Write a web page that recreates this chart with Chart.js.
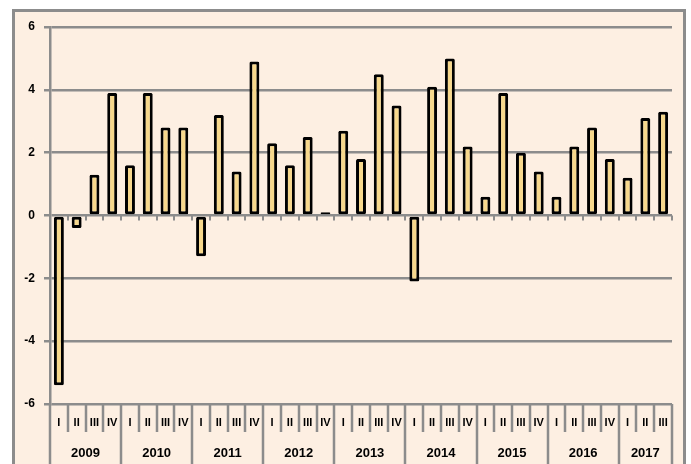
<!DOCTYPE html>
<html>
<head>
<meta charset="utf-8">
<script src="https://cdn.jsdelivr.net/npm/chart.js@4/dist/chart.umd.min.js"></script>
<style>
  html, body { margin: 0; padding: 0; background: #fff; }
  #wrap { width: 691px; height: 464px; }
</style>
</head>
<body>
<div id="wrap"><canvas id="chart" width="691" height="464"></canvas></div>
<script>
// data
const years = ['2009', '2010', '2011', '2012', '2013', '2014', '2015', '2016', '2017'];
const quartersPerYear = [4, 4, 4, 4, 4, 4, 4, 4, 3];
const quarterNames = ['I', 'II', 'III', 'IV'];
const values = [
  -5.4, -0.4, 1.3, 3.9,
  1.6, 3.9, 2.8, 2.8,
  -1.3, 3.2, 1.4, 4.9,
  2.3, 1.6, 2.5, 0.1,
  2.7, 1.8, 4.5, 3.5,
  -2.1, 4.1, 5.0, 2.2,
  0.6, 3.9, 2.0, 1.4,
  0.6, 2.2, 2.8, 1.8,
  1.2, 3.1, 3.3
];
const yTicks = [-6, -4, -2, 0, 2, 4, 6];

const labels = [];
years.forEach((y, i) => {
  for (let q = 0; q < quartersPerYear[i]; q++) labels.push(quarterNames[q]);
});

const GRAY = '#8c8c8c';
const FONT = '"Liberation Sans", Arial, sans-serif';

// frame, background and the two-row category labels
const framePlugin = {
  id: 'frame',
  beforeDraw(chart) {
    const ctx = chart.ctx;
    ctx.save();
    ctx.fillStyle = '#fff';
    ctx.fillRect(0, 0, chart.width, chart.height);
    ctx.fillStyle = '#fdefe2';
    ctx.fillRect(13, 10, 672, 460);
    ctx.strokeStyle = GRAY;
    ctx.lineWidth = 3;
    ctx.beginPath();
    ctx.moveTo(13.5, 470);
    ctx.lineTo(13.5, 10.5);
    ctx.lineTo(684.5, 10.5);
    ctx.lineTo(684.5, 470);
    ctx.stroke();
    ctx.restore();
  },
  beforeDatasetsDraw(chart) {
    const ctx = chart.ctx;
    const y = chart.scales.y;
    const area = chart.chartArea;
    const cw = (area.right - area.left) / labels.length;
    const y0 = y.getPixelForValue(0);
    ctx.save();
    ctx.strokeStyle = GRAY;
    ctx.lineWidth = 2;
    ctx.beginPath();
    for (let k = 1; k <= labels.length; k++) {
      const px = Math.round(area.left + k * cw);
      ctx.moveTo(px, y0);
      ctx.lineTo(px, y0 + 5);
    }
    ctx.stroke();
    ctx.restore();
  },
  afterDraw(chart) {
    const ctx = chart.ctx;
    const x = chart.scales.x;
    const area = chart.chartArea;
    const cw = (area.right - area.left) / labels.length;
    const bottom = area.bottom;
    ctx.save();
    ctx.strokeStyle = GRAY;
    ctx.lineWidth = 2.5;
    ctx.beginPath();
    // quarter dividers
    for (let k = 0; k <= labels.length; k++) {
      const px = Math.round(area.left + k * cw);
      ctx.moveTo(px, bottom);
      ctx.lineTo(px, bottom + 28);
    }
    // year dividers
    let k = 0;
    const yearEdges = [0];
    quartersPerYear.forEach(n => { k += n; yearEdges.push(k); });
    yearEdges.forEach(e => {
      const px = Math.round(area.left + e * cw);
      ctx.moveTo(px, bottom);
      ctx.lineTo(px, chart.height);
    });
    ctx.stroke();

    ctx.fillStyle = '#000';
    ctx.textAlign = 'center';
    ctx.textBaseline = 'middle';
    ctx.font = 'bold 11px ' + FONT;
    labels.forEach((lab, i) => {
      ctx.fillText(lab, x.getPixelForValue(i), bottom + 19);
    });
    ctx.font = 'bold 13px ' + FONT;
    years.forEach((yr, i) => {
      const mid = area.left + (yearEdges[i] + yearEdges[i + 1]) / 2 * cw;
      ctx.fillText(yr, mid, bottom + 49);
    });
    ctx.restore();
  }
};

new Chart(document.getElementById('chart'), {
  type: 'bar',
  data: {
    labels: labels,
    datasets: [{
      data: values,
      backgroundColor: '#f7d88c',
      borderColor: '#000',
      borderWidth: 3,
      borderRadius: 1.5,
      borderSkipped: false,
      barPercentage: 0.56,
      categoryPercentage: 1.0
    }]
  },
  options: {
    responsive: false,
    animation: false,
    layout: { padding: { left: 0, top: 27, right: 19, bottom: 0 } },
    plugins: { legend: { display: false }, tooltip: { enabled: false } },
    scales: {
      x: {
        ticks: { display: false },
        grid: { display: false },
        border: { display: false },
        afterFit: s => { s.height = 60; }
      },
      y: {
        min: -6,
        max: 6,
        afterBuildTicks: s => { s.ticks = yTicks.map(v => ({ value: v })); },
        ticks: {
          color: '#000',
          font: { family: FONT, size: 12, weight: 'bold' },
          padding: 9
        },
        grid: { color: GRAY, lineWidth: 2.5, tickLength: 6, drawTicks: true },
        border: { display: true, color: GRAY, width: 2.5 },
        afterFit: s => { s.width = 50; }
      }
    }
  },
  plugins: [framePlugin]
});
</script>
</body>
</html>
